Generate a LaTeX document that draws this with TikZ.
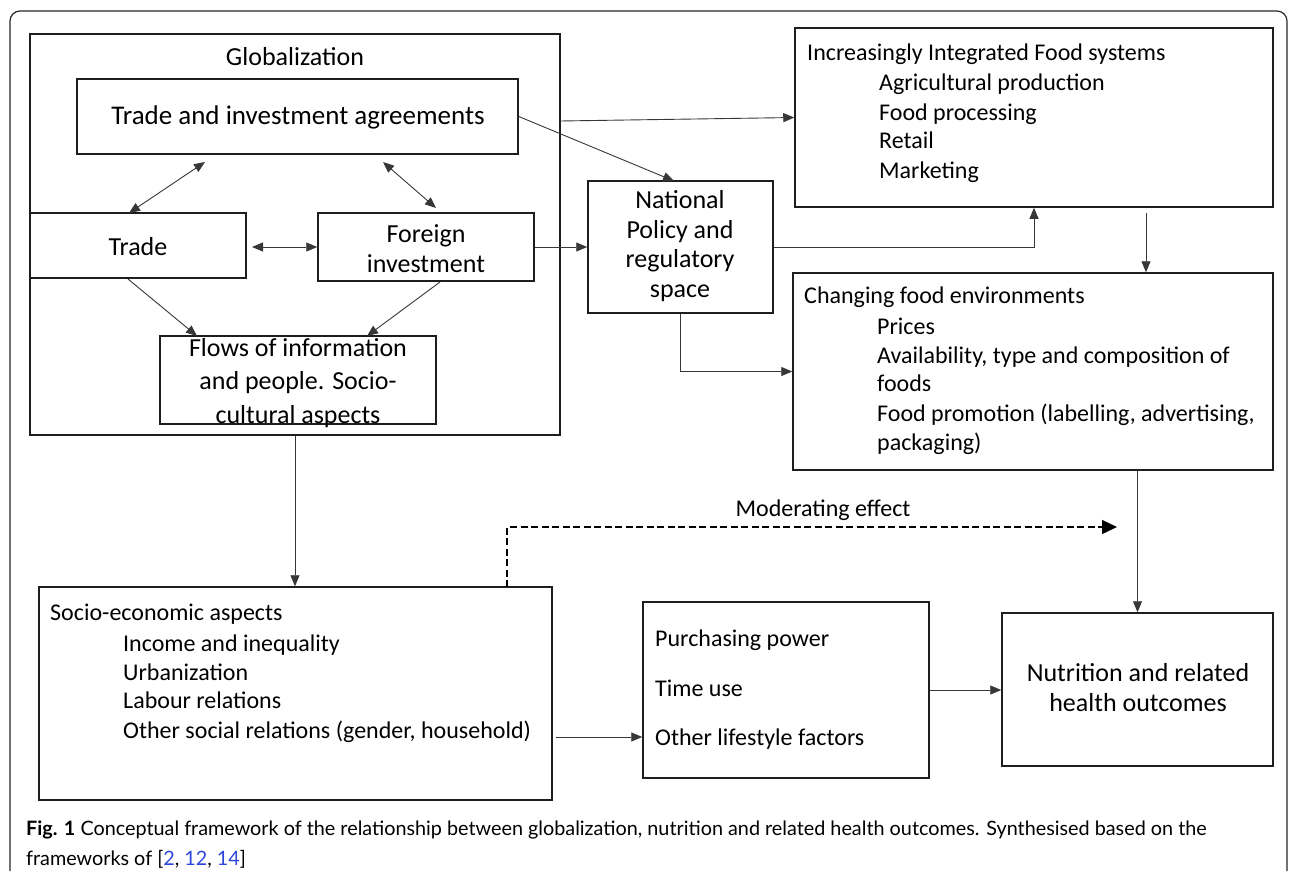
\documentclass[tikz,border=0pt]{standalone}
\usepackage{fontspec}
\setmainfont{Carlito}
\newfontfamily\capfont{Lato}
\usetikzlibrary{arrows.meta,calc}
\definecolor{linkblue}{RGB}{45,70,220}
\definecolor{boxline}{RGB}{30,30,30}
\definecolor{arrline}{RGB}{55,55,55}
\begin{document}
\begin{tikzpicture}[x=1pt,y=-1pt,
  box/.style={draw=boxline,line width=1.5pt,inner sep=0pt,fill=none},
  arr/.style={draw=arrline,line width=0.9pt,-{Triangle[length=11pt,width=9pt]}},
  darr/.style={draw=arrline,line width=0.9pt,{Triangle[length=11pt,width=9pt]}-{Triangle[length=11pt,width=9pt]}},
  modarr/.style={draw=black,line width=1.3pt,dash pattern=on 7pt off 3.5pt,-{Triangle[length=15pt,width=14pt]}},
  big/.style={font=\fontsize{26}{30}\selectfont,inner sep=0pt},
  lst/.style={font=\fontsize{24}{29}\selectfont,inner sep=0pt,anchor=base west},
  captxt/.style={font=\capfont\fontsize{19.8}{24}\selectfont,inner sep=0pt,anchor=base west}]
\useasboundingbox (0,0) rectangle (1290,871);
% outer frame
\draw[draw=black!85,line width=1.2pt,rounded corners=10pt] (10,871) -- (10,11) -- (1287,11) -- (1287,871);
% boxes
\node[box,minimum width=530pt,minimum height=401pt] (glob) at (295,234.5) {};
\node[box,minimum width=441pt,minimum height=75pt] (tia) at (297.5,116.5) {};
\node[box,minimum width=216pt,minimum height=65pt] (trade) at (138,245.5) {};
\node[box,minimum width=216pt,minimum height=68pt] (fi) at (426,247) {};
\node[box,minimum width=276pt,minimum height=88pt] (flows) at (298,380) {};
\node[box,minimum width=185pt,minimum height=132pt] (np) at (680.5,247) {};
\node[box,minimum width=478pt,minimum height=179pt] (iifs) at (1034,117.5) {};
\node[box,minimum width=480pt,minimum height=197pt] (cfe) at (1033,371.5) {};
\node[box,minimum width=513pt,minimum height=213pt] (se) at (295.5,693.5) {};
\node[box,minimum width=286pt,minimum height=176pt] (pp) at (786,690) {};
\node[box,minimum width=271pt,minimum height=153pt] (nho) at (1137.5,689.5) {};
% centred texts
\node[big] (globt) at (295,57) {Globalization};
\node[big,font=\fontsize{27}{30}\selectfont] (tiat) at (298,117) {Trade and investment agreements};
\node[big] (tradet) at (138,247) {Trade};
\node[big,align=center] (fit) at (426,249) {Foreign\\investment};
\node[big,align=center,font=\fontsize{26}{33.5}\selectfont] (flowst) at (298,383) {Flows of information\\and people. Socio-\\cultural aspects};
\node[big,align=center,font=\fontsize{26}{29.5}\selectfont] (npt) at (680,246) {National\\Policy and\\regulatory\\space};
\node[big,align=center] (nhot) at (1138,688) {Nutrition and related\\health outcomes};
\node[big,font=\fontsize{24}{28}\selectfont] (modt) at (823,510) {Moderating effect};
% list texts
\node[lst] (iifs1) at (807,60) {Increasingly Integrated Food systems};
\node[lst] (iifs2) at (879,90) {Agricultural production};
\node[lst] (iifs3) at (879,120) {Food processing};
\node[lst] (iifs4) at (879,148) {Retail};
\node[lst] (iifs5) at (879,178) {Marketing};
\node[lst] (cfe1) at (804,303) {Changing food environments};
\node[lst] (cfe2) at (877,334) {Prices};
\node[lst] (cfe3) at (877,363) {Availability, type and composition of};
\node[lst] (cfe4) at (877,391) {foods};
\node[lst] (cfe5) at (877,421) {Food promotion (labelling, advertising,};
\node[lst] (cfe6) at (877,450) {packaging)};
\node[lst] (se1) at (50,620) {Socio-economic aspects};
\node[lst] (se2) at (123,651) {Income and inequality};
\node[lst] (se3) at (123,680) {Urbanization};
\node[lst] (se4) at (123,708) {Labour relations};
\node[lst] (se5) at (123,738) {Other social relations (gender, household)};
\node[lst] (pp1) at (655,646) {Purchasing power};
\node[lst] (pp2) at (655,696) {Time use};
\node[lst] (pp3) at (655,745) {Other lifestyle factors};
% caption
\node[captxt] (cap1) at (26,835) {\textbf{Fig. 1} Conceptual framework of the relationship between globalization, nutrition and related health outcomes. Synthesised based on the};
\node[captxt] (cap2) at (26,865) {frameworks of [\textcolor{linkblue}{2}, \textcolor{linkblue}{12}, \textcolor{linkblue}{14}]};
% coordinates
\coordinate (a1) at (205,162);
\coordinate (a2) at (129,213);
\coordinate (b1) at (383,162);
\coordinate (b2) at (436,208);
\coordinate (c1) at (252,247);
\coordinate (d1) at (128,279);
\coordinate (d2) at (197,336);
\coordinate (e1) at (440,282);
\coordinate (e2) at (367,336);
\coordinate (gi) at (560,121);
\coordinate (npin) at (674,181);
\coordinate (ic) at (1146,213);
\coordinate (sep) at (556,737);
\coordinate (modstart) at (507,587);
\coordinate (modend) at (1117,527);
% connectors
\draw[darr] (a1) -- (a2);
\draw[darr] (b1) -- (b2);
\draw[darr] (c1) -- (fi.west);
\draw[arr] (d1) -- (d2);
\draw[arr] (e1) -- (e2);
\draw[arr] (gi) -- (iifs.west);
\draw[arr] (tia.east) -- (npin);
\draw[arr] (fi.east) -- (np.west);
\draw[arr] (np.east) -| (iifs.south);
\draw[arr] (np.south) |- (cfe.west);
\draw[arr] (ic) -- (ic |- cfe.north);
\draw[arr] (nho.north |- cfe.south) -- (nho.north);
\draw[arr] (glob.south) -- (glob.south |- se.north);
\draw[arr] (sep) -- (sep -| pp.west);
\draw[arr] (pp.east) -- (pp.east -| nho.west);
\draw[modarr] (modstart) |- (modend);
\end{tikzpicture}
\end{document}
